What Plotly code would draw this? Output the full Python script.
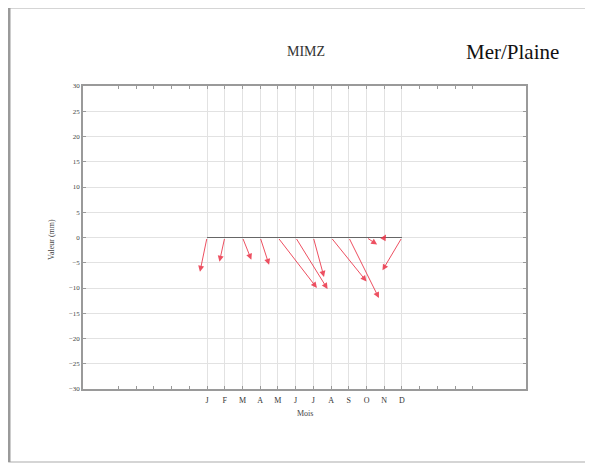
import plotly.graph_objects as go

months = ["J", "F", "M", "A", "M", "J", "J", "A", "S", "O", "N", "D"]
month_pos = [1, 2, 3, 4, 5, 6, 7, 8, 9, 10, 11, 12]
minor_ticks = [-4, -3, -2, -1, 0, 13, 14, 15, 16]
start_y = [0, 0, 0, 0, 0, 0, 0, 0, 0, 0, 0, 0]
end_x = [0.6, 1.7, 3.5, 4.5, 7.2, 7.8, 7.6, 10.0, 10.7, 10.6, 11.1, 10.9]
end_y = [-6.8, -4.8, -4.4, -5.4, -10.0, -10.2, -7.8, -8.7, -12.0, -1.4, 0.6, -6.5]
y_ticks = [-30, -25, -20, -15, -10, -5, 0, 5, 10, 15, 20, 25, 30]

OFF = 8  # page body margin
W, H = 593 - OFF, 464 - OFF
L, R, T, B = 83 - OFF, 526 - OFF, 86 - OFF, 389 - OFF
pw, ph = R - L, B - T

def px(x):
    return (x - OFF - L) / pw

def py(y):
    return (B - (y - OFF)) / ph

fig = go.Figure()
fig.add_trace(go.Scatter(
    x=month_pos, y=start_y, mode="lines",
    line=dict(color="#666666", width=1.2),
    hoverinfo="skip", showlegend=False,
))

for sx, sy, ex, ey in zip(month_pos, start_y, end_x, end_y):
    fig.add_annotation(
        x=ex, y=ey, ax=sx, ay=sy, xref="x", yref="y", axref="x", ayref="y",
        showarrow=True, arrowhead=2, arrowsize=1.2, arrowwidth=1,
        arrowcolor="rgba(235,50,70,0.85)", text="",
    )

serif = "Liberation Serif"

def label(x, y, text, size, color, angle=0):
    fig.add_annotation(x=px(x), y=py(y), xref="paper", yref="paper",
                       xanchor="center", yanchor="middle",
                       text=text, showarrow=False, textangle=angle,
                       font=dict(family=serif, size=size, color=color))

label(306, 52, "MIMZ", 14, "#333333")
label(512, 52, "Mer/Plaine", 21, "#111111")
label(305, 413, "Mois", 8, "#444444")
label(52, 240, "Valeur (mm)", 8, "#444444", -90)

# outer frame
fig.add_shape(type="rect", xref="paper", yref="paper",
              x0=px(9), x1=px(587), y0=py(462), y1=py(8),
              line=dict(color="#c8c8c8", width=1.5), layer="below")
fig.add_shape(type="line", xref="paper", yref="paper",
              x0=px(9), x1=px(9), y0=py(462), y1=py(8),
              line=dict(color="#9a9a9a", width=3))

fig.update_xaxes(
    range=[-6, 19], tickvals=month_pos, ticktext=months,
    showgrid=True, gridcolor="#e2e2e2", gridwidth=1,
    showline=True, linecolor="#9a9a9a", linewidth=1.5, mirror="ticks",
    ticks="inside", ticklen=3, tickcolor="#999999",
    minor=dict(tickmode="array", tickvals=minor_ticks, ticks="inside",
               ticklen=3, tickcolor="#999999", showgrid=False),
    tickfont=dict(family=serif, size=8, color="#333333"),
    ticklabelstandoff=3,
    zeroline=False, fixedrange=True,
)
fig.update_yaxes(
    range=[-30, 30], tickvals=y_ticks,
    showgrid=True, gridcolor="#e2e2e2", gridwidth=1,
    showline=True, linecolor="#9a9a9a", linewidth=1.5, mirror="ticks",
    ticks="inside", ticklen=3, tickcolor="#999999",
    tickfont=dict(family=serif, size=7, color="#444444"),
    zeroline=False, fixedrange=True,
)

fig.update_layout(
    width=W, height=H,
    margin=dict(l=L, r=W - R, t=T, b=H - B, autoexpand=False),
    paper_bgcolor="white", plot_bgcolor="white",
    showlegend=False,
)

fig.write_html("out.html")
